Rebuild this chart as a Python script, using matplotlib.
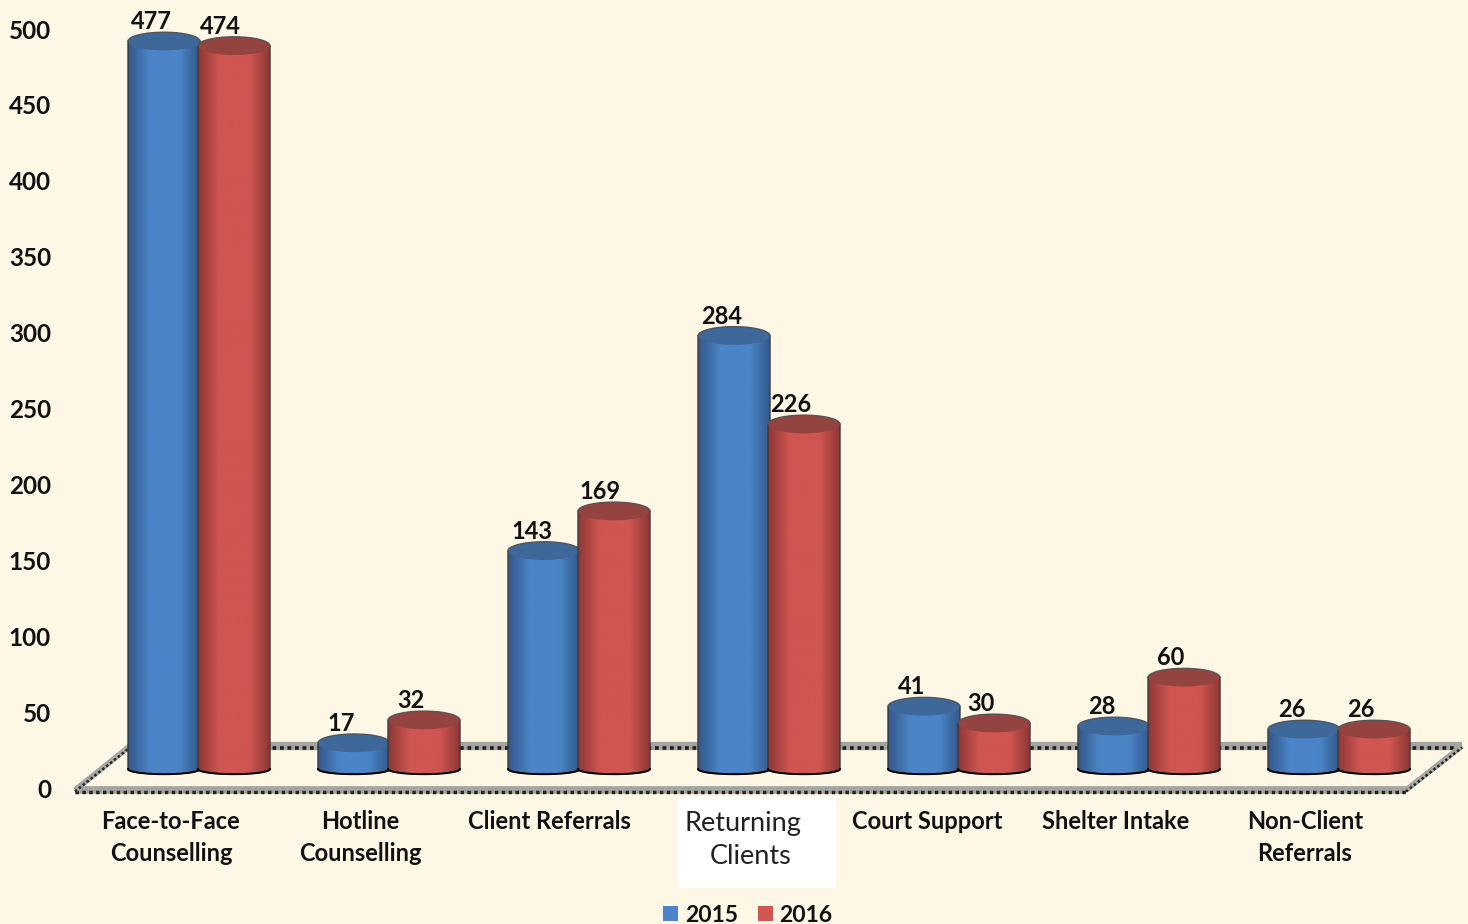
import numpy as np
import matplotlib
matplotlib.use("Agg")
import matplotlib.pyplot as plt
from matplotlib.patches import Patch, Polygon, Rectangle

categories = ["Face-to-Face\nCounselling", "Hotline\nCounselling", "Client Referrals",
              "Returning\nClients", "Court Support", "Shelter Intake",
              "Non-Client\nReferrals"]
values_2015 = [477, 17, 143, 284, 41, 28, 26]
values_2016 = [474, 32, 169, 226, 30, 60, 26]
series_names = ["2015", "2016"]
y_ticks = [0, 50, 100, 150, 200, 250, 300, 350, 400, 450, 500]

BG = "#FFF7E6"
# side edge, middle and top colours of each cylinder
BLUE = ["#34588A", "#4B85C8", "#3E679A"]
RED = ["#8F3836", "#D05652", "#934340"]

PX_X = 190.0   # pixels per category
PX_Y = 1.518   # pixels per value
W, H = 1468, 924

plt.rcParams["font.family"] = ["Lato", "DejaVu Sans"]
plt.rcParams["font.weight"] = "bold"

fig = plt.figure(figsize=(W / 100, H / 100), dpi=100, facecolor=BG)
ax = fig.add_axes([62 / W, (H - 800) / H, (W - 62) / W, 800 / H])
ax.set_facecolor(BG)


def fx(px):
    return (px - 199) / PX_X


def fy(py):
    return (788 - py) / PX_Y


def cmap_for(cols):
    return matplotlib.colors.LinearSegmentedColormap.from_list(
        "c", [(0, cols[0]), (0.3, cols[1]), (0.72, cols[1]), (1, cols[0])])


def cylinder(xc, val, cols, z):
    hw = 36 / PX_X
    base = 12.5
    top = base + val * 1.005
    t = np.linspace(0, np.pi, 40)
    # body outline, front of the foot then back of the top
    xs = np.r_[xc - hw, xc - hw * np.cos(t), xc + hw, xc + hw * np.cos(t)]
    ys = np.r_[top, base - 3.4 * np.sin(t), top, top + 6 * np.sin(t)]
    body = Polygon(np.c_[xs, ys], closed=True, fc="none", ec="none", zorder=z)
    ax.add_patch(body)
    grad = np.linspace(0, 1, 64).reshape(1, -1)
    im = ax.imshow(grad, cmap=cmap_for(cols), extent=[xc - hw, xc + hw, base - 5, top + 8],
                   aspect="auto", zorder=z, interpolation="bicubic", vmin=0, vmax=1)
    im.set_clip_path(body)
    # top face
    t2 = np.linspace(0, 2 * np.pi, 80)
    ax.add_patch(Polygon(np.c_[xc + hw * np.cos(t2), top + 6 * np.sin(t2)], closed=True,
                         fc=cols[2], ec="none", zorder=z + 0.1))
    # rough dark edge
    ax.plot(np.r_[xc - hw, xc - hw, xc - hw * np.cos(t), xc + hw, xc + hw],
            np.r_[top, base, base - 3.4 * np.sin(t), base, top],
            color="#3A3A3A", lw=1, zorder=z + 0.2)
    ax.plot(xc - hw * np.cos(t), base - 3.4 * np.sin(t), color="black", lw=1.4, zorder=z + 0.2)
    ax.plot(xc + hw * np.cos(t), top + 6 * np.sin(t), color="#555555", lw=1, zorder=z + 0.2)
    return top


def floor_line(x0, y0, x1, y1, lw, z):
    ax.plot([fx(x0), fx(x1)], [fy(y0), fy(y1)], color="#A4A4A0", lw=lw, zorder=z,
            solid_capstyle="butt", clip_on=False)
    ax.plot([fx(x0), fx(x1)], [fy(y0 + 1.5), fy(y1 + 1.5)], color="#222222", lw=lw * 0.45,
            ls=(0, (1, 1)), zorder=z, clip_on=False)


# floor of the 3D plot
floor_line(130, 746, 1462, 746, 6, 1)
floor_line(75, 790, 1406, 790, 5.5, 1)
floor_line(75, 790, 130, 746, 4, 1)
floor_line(1406, 790, 1462, 746, 4, 1)

offset = 35 / PX_X
for i, (a, b) in enumerate(zip(values_2015, values_2016)):
    top_a = cylinder(i - offset, a, BLUE, 2 + i)
    top_b = cylinder(i + offset, b, RED, 2.5 + i)
    ax.text(i - offset - 12.5 / PX_X, top_a + 13, str(a), ha="center", va="center",
            fontsize=17, color="#111111", zorder=20)
    ax.text(i + offset - 13.5 / PX_X, top_b + 13, str(b), ha="center", va="center",
            fontsize=17, color="#111111", zorder=20)

ax.set_xlim(fx(62), fx(W))
ax.set_ylim(fy(800), fy(0))

ax.set_yticks(y_ticks)
ax.set_yticklabels([str(v) for v in y_ticks], fontsize=17.5, color="#111111")
# category labels sit a bit left of the bars and drift slightly further along the axis
ax.set_xticks(np.arange(len(categories)) * 189 / PX_X - 28 / PX_X)
ax.set_xticklabels([c if i != 3 else "" for i, c in enumerate(categories)],
                   fontsize=17, color="#111111", linespacing=1.5, va="top")
ax.tick_params(axis="y", length=0, pad=8)
ax.tick_params(axis="x", length=0, pad=7)
for s in ax.spines.values():
    s.set_visible(False)

# the pasted-over white label
ax.add_patch(Rectangle((fx(678), fy(888)), 158 / PX_X, 91 / PX_Y, fc="white", ec="none",
                       clip_on=False, zorder=10))
line_1, line_2 = categories[3].split("\n")
ax.text(fx(743), fy(824), line_1, ha="center", va="center", fontsize=19.5,
        fontweight="normal", color="#222222", clip_on=False, zorder=11)
ax.text(fx(751), fy(857), line_2, ha="center", va="center", fontsize=19.5,
        fontweight="normal", color="#222222", clip_on=False, zorder=11)

handles = [Patch(fc=BLUE[1], ec="none"), Patch(fc=RED[1], ec="none")]
fig.legend(handles, series_names, ncol=2, frameon=False, fontsize=16.5,
           loc="center", bbox_to_anchor=(748 / W, (H - 915) / H),
           handlelength=0.65, handleheight=0.65, handletextpad=0.3, columnspacing=0.85,
           labelcolor="#111111")

fig.savefig("out.png", dpi=100, facecolor=BG)
